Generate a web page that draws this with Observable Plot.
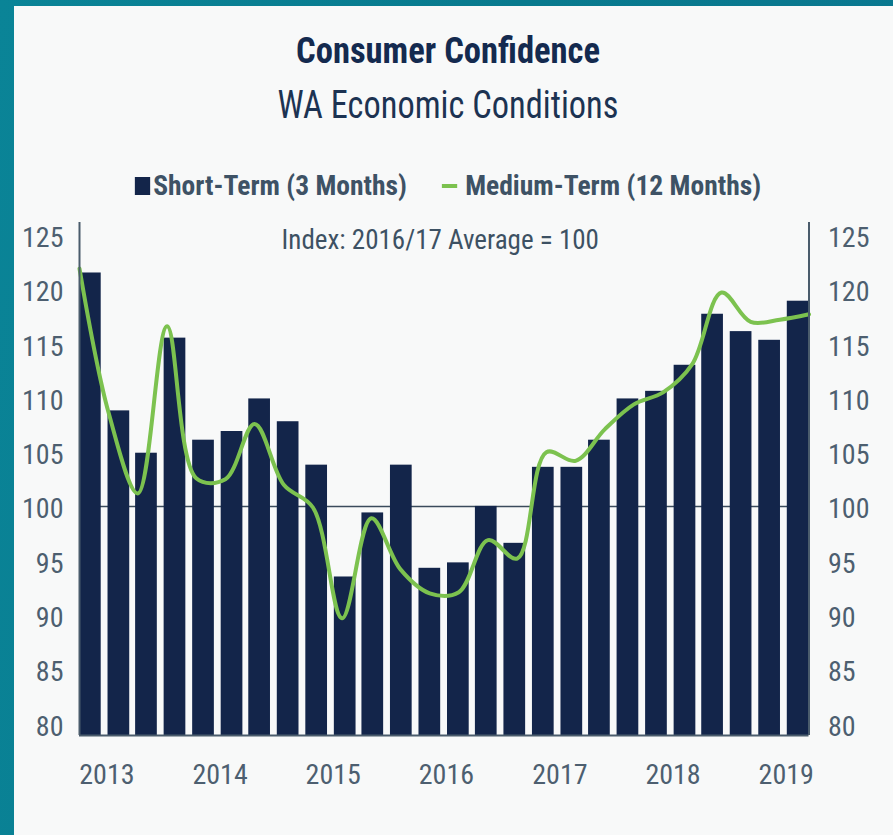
<!DOCTYPE html>
<html>
<head>
<meta charset="utf-8">
<script src="https://cdn.jsdelivr.net/npm/d3@7"></script>
<script src="https://cdn.jsdelivr.net/npm/@observablehq/plot@0.6"></script>
<style>
  html, body { margin: 0; padding: 0; }
  body {
    width: 893px; height: 835px; position: relative; overflow: hidden;
    background: linear-gradient(100deg, #0a8497 0%, #087a8e 50%, #0a7790 100%);
  }
  #panel { position: absolute; left: 14px; top: 6px; width: 879px; height: 829px; background: #f8f9f9; }
  .narrow { font-family: "Liberation Sans Narrow", "Roboto Condensed", "DejaVu Sans Condensed", "Arial Narrow", sans-serif; }
  .t { position: absolute; left: 0; width: 896px; text-align: center; white-space: nowrap; }
  #title { top: 30px; font-size: 36px; line-height: 40px; font-weight: bold; color: #142a4f; transform: scale(0.96, 1.05); }
  #subtitle { top: 86px; font-size: 37px; line-height: 40px; color: #1c3352; transform: scale(0.93, 1.03); }
  #legend { top: 170px; font-size: 27px; line-height: 32px; font-weight: bold; color: #3e5265; transform: scale(1.02, 1); }
  .sw { display: inline-block; vertical-align: middle; }
  #chart { position: absolute; left: 0; top: 215px; }
</style>
</head>
<body>
<div id="panel"></div>
<div id="title" class="t narrow">Consumer Confidence</div>
<div id="subtitle" class="t narrow">WA Economic Conditions</div>
<div id="legend" class="t narrow"><span class="sw" style="width:15px;height:18px;background:#13254a;margin-right:3px;position:relative;top:-2px"></span>Short-Term (3 Months)<span style="display:inline-block;width:34px"></span><span class="sw" style="width:15px;height:4px;background:#7cc24f;margin-right:8px;position:relative;top:-2px"></span>Medium-Term (12 Months)</div>
<div id="chart"></div>
<script>
// ---- data ----
const quarters = ["2012-11-15","2013-02-15","2013-05-15","2013-08-15","2013-11-15",
  "2014-02-15","2014-05-15","2014-08-15","2014-11-15",
  "2015-02-15","2015-05-15","2015-08-15","2015-11-15",
  "2016-02-15","2016-05-15","2016-08-15","2016-11-15",
  "2017-02-15","2017-05-15","2017-08-15","2017-11-15",
  "2018-02-15","2018-05-15","2018-08-15","2018-11-15",
  "2019-02-15"];
const shortTerm = [121.5,108.8,104.9,115.5,106.1,106.9,109.9,107.8,103.8,93.5,99.4,103.8,94.3,94.8,100.0,96.6,103.6,103.6,106.1,109.9,110.6,113.0,117.7,116.1,115.3,118.9];
const mediumTerm = [121.9,108.6,101.2,116.6,102.6,102.5,107.6,102.0,99.9,89.7,98.9,94.2,92.0,92.1,96.9,95.2,105.0,104.2,107.1,109.4,110.5,113.1,119.7,117.0,117.2,117.7];
const yearLabels = [2013,2014,2015,2016,2017,2018,2019];
const yTicks = [80,85,90,95,100,105,110,115,120,125];
const baseline = 100;
const note = "Index: 2016/17 Average = 100";

// ---- build ----
const DAY = 864e5;
const halfBar = 35 * DAY;
const dates = quarters.map(s => new Date(s + "T00:00:00Z"));
const bars = dates.map((d, i) => ({x1: new Date(+d - halfBar), x2: new Date(+d + halfBar), v: shortTerm[i]}));
const x0 = new Date(+dates[0] - halfBar);
const x1 = new Date(+dates[dates.length - 1] + halfBar);
const line = mediumTerm.map((v, j) => ({x: new Date(+x0 + (x1 - x0) * j / (mediumTerm.length - 1)), v}));
const yMin = 78.9, yMax = 126.15;
const font = "Liberation Sans Narrow, Roboto Condensed, DejaVu Sans Condensed, Arial Narrow, sans-serif";
const tickColor = "#4d5f70";

const chart = Plot.plot({
  width: 893,
  height: 620,
  marginLeft: 79,
  marginRight: 84.5,
  marginTop: 7,
  marginBottom: 100,
  style: {background: "transparent", overflow: "visible"},
  x: {type: "utc", domain: [x0, x1], axis: null},
  y: {domain: [yMin, yMax], axis: null},
  marks: [
    Plot.ruleY([baseline], {stroke: "#3a4b5c", strokeWidth: 1.5}),
    Plot.rect(bars, {x1: "x1", x2: "x2", y1: yMin, y2: "v", fill: "#13254a"}),
    Plot.line(line, {x: "x", y: "v", stroke: "#7cc24f", strokeWidth: 4, curve: "catmull-rom"}),
    Plot.ruleX([x0], {y1: yMin, y2: yMax, stroke: "#4a5c6c", strokeWidth: 2}),
    Plot.ruleX([x1], {y1: yMin, y2: yMax, stroke: "#4a5c6c", strokeWidth: 2}),
    Plot.ruleY([yMin], {x1: x0, x2: x1, stroke: "#4a5c6c", strokeWidth: 2}),
    Plot.text(yTicks, {x: x0, y: d => d, text: d => String(d), dx: -16, dy: 3, textAnchor: "end", fontSize: 28, fontFamily: font, fill: tickColor}),
    Plot.text(yTicks, {x: x1, y: d => d, text: d => String(d), dx: 19, dy: 3, textAnchor: "start", fontSize: 28, fontFamily: font, fill: tickColor}),
    Plot.text(yearLabels, {x: d => new Date(Date.UTC(d, 0, 1)), y: yMin, text: d => String(d), dy: 40, dx: 2, fontSize: 28, fontFamily: font, fill: tickColor}),
    Plot.text([note], {frameAnchor: "top", dy: 7, dx: -4, text: d => d, fontSize: 27, fontFamily: font, fill: "#3d5163"})
  ]
});
document.getElementById("chart").appendChild(chart);
</script>
</body>
</html>
